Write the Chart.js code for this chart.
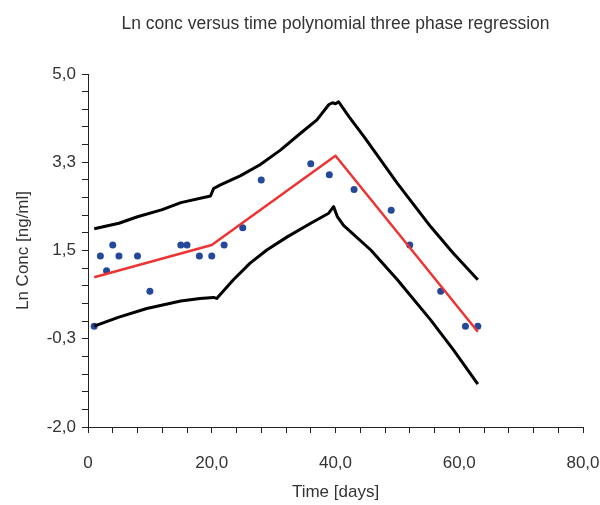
<!DOCTYPE html>
<html>
<head>
<meta charset="utf-8">
<script src="https://cdn.jsdelivr.net/npm/chart.js@4/dist/chart.umd.min.js"></script>
<style>
  body { margin: 0; background: #fff; }
  #wrap { width: 600px; height: 505px; position: relative; }
</style>
</head>
<body>
<div id="wrap"><canvas id="dataChart"></canvas></div>
<script>
// observed ln concentrations
const obsDays = [1, 2, 3, 4, 5, 8, 10, 15, 16, 18, 20, 22, 25, 28, 36, 39, 43, 49, 52, 57, 61, 63];
const obsLnConc = [0.0, 1.39, 1.10, 1.61, 1.39, 1.39, 0.69, 1.61, 1.61, 1.39, 1.39, 1.61, 1.95, 2.90, 3.22, 3.00, 2.71, 2.30, 1.61, 0.69, 0.0, 0.0];

// three phase fit
const fitDays = [1, 20, 40, 63];
const fitLnConc = [0.97, 1.61, 3.38, -0.11];

// upper / lower bands
const upperDays = [1, 5, 8, 12, 15, 19.8, 20.3, 21.4, 24.6, 27.8, 31.1, 34.3, 37, 38.9, 39.5, 40, 40.5, 42.2, 44.6, 50, 55.4, 59, 63];
const upperLnConc = [1.93, 2.04, 2.17, 2.31, 2.45, 2.58, 2.73, 2.80, 2.98, 3.20, 3.49, 3.82, 4.09, 4.39, 4.43, 4.41, 4.45, 4.15, 3.76, 2.83, 1.97, 1.45, 0.92];
const lowerDays = [1, 5, 9.5, 15, 18.1, 20.3, 20.8, 23.5, 26.2, 28.9, 32.2, 36, 38.9, 39.7, 40.3, 41.3, 45.7, 50, 55.4, 59, 63];
const lowerLnConc = [0.0, 0.18, 0.35, 0.50, 0.55, 0.57, 0.55, 0.92, 1.25, 1.51, 1.77, 2.04, 2.24, 2.37, 2.17, 2.0, 1.51, 0.92, 0.12, -0.46, -1.15];

// axis labels (major ticks), minor ticks in between
const xTickLabels = ['0', '20,0', '40,0', '60,0', '80,0'];
const yTickLabels = ['-2,0', '-0,3', '1,5', '3,3', '5,0'];

const chartTitle = 'Ln conc versus time polynomial three phase regression';

const FONT = "'Liberation Sans', Arial, sans-serif";
const FSIZE = 17;
const TXT = '#333';

function toPts(xs, ys) {
    return xs.map((x, i) => ({ x: x, y: ys[i] }));
}

function lineSet(xs, ys, color, width) {
    return {
        data: toPts(xs, ys),
        showLine: true,
        borderColor: color,
        borderWidth: width,
        borderJoinStyle: 'round',
        pointRadius: 0,
        tension: 0,
        fill: false
    };
}

// title is centred over the plot area, not the canvas
const plotTitle = {
    id: 'plotTitle',
    afterDraw(chart) {
        const { ctx, chartArea } = chart;
        ctx.save();
        ctx.font = '17.5px ' + FONT;
        ctx.fillStyle = TXT;
        ctx.textAlign = 'center';
        ctx.textBaseline = 'middle';
        ctx.fillText(chartTitle, (chartArea.left + chartArea.right) / 2, 24);
        ctx.restore();
    }
};

const axisGrid = {
    display: true,
    drawOnChartArea: false,
    drawTicks: true,
    tickLength: 6,
    tickWidth: 1,
    tickColor: '#222'
};

const ctx = document.getElementById('dataChart').getContext('2d');
new Chart(ctx, {
    type: 'scatter',
    data: {
        datasets: [
            lineSet(upperDays, upperLnConc, '#000', 3),
            lineSet(lowerDays, lowerLnConc, '#000', 3),
            lineSet(fitDays, fitLnConc, '#EE3333', 2.5),
            {
                data: toPts(obsDays, obsLnConc),
                pointRadius: 3.5,
                pointBackgroundColor: '#24499A',
                pointBorderWidth: 0,
                showLine: false
            }
        ]
    },
    options: {
        responsive: true,
        maintainAspectRatio: false,
        animation: false,
        layout: { padding: { left: 0, right: 17, top: 74, bottom: 0 } },
        plugins: {
            legend: { display: false },
            tooltip: { enabled: false },
            title: { display: false }
        },
        scales: {
            x: {
                type: 'linear',
                min: 0,
                max: 80,
                afterBuildTicks: axis => {
                    const t = [];
                    for (let v = 0; v <= 80; v += 4) t.push({ value: v });
                    axis.ticks = t;
                },
                afterFit: axis => {
                    axis.height = 78;
                    // the big label gap should not eat into the plot width
                    axis.paddingLeft = 0;
                    axis.paddingRight = 0;
                },
                ticks: {
                    autoSkip: false,
                    maxRotation: 0,
                    padding: 20,
                    color: TXT,
                    font: { family: FONT, size: FSIZE },
                    callback: (v, i) => (i % 5 === 0 ? xTickLabels[i / 5] : '')
                },
                grid: axisGrid,
                border: { display: true, color: '#222', width: 1 },
                title: {
                    display: true,
                    text: 'Time [days]',
                    color: TXT,
                    font: { family: FONT, size: FSIZE },
                    padding: { top: 0, bottom: 2 }
                }
            },
            y: {
                type: 'linear',
                min: -2,
                max: 5,
                afterBuildTicks: axis => {
                    const t = [];
                    for (let i = 0; i <= 20; i++) t.push({ value: Math.round((-2 + 0.35 * i) * 100) / 100 });
                    axis.ticks = t;
                },
                afterFit: axis => { axis.width = 88; },
                ticks: {
                    autoSkip: false,
                    padding: 6,
                    color: TXT,
                    font: { family: FONT, size: FSIZE },
                    callback: (v, i) => (i % 5 === 0 ? yTickLabels[i / 5] : '')
                },
                grid: axisGrid,
                border: { display: true, color: '#222', width: 1 },
                title: {
                    display: true,
                    text: 'Ln Conc [ng/ml]',
                    color: TXT,
                    font: { family: FONT, size: FSIZE },
                    padding: { top: 13, bottom: 0 }
                }
            }
        }
    },
    plugins: [plotTitle]
});
</script>
</body>
</html>
